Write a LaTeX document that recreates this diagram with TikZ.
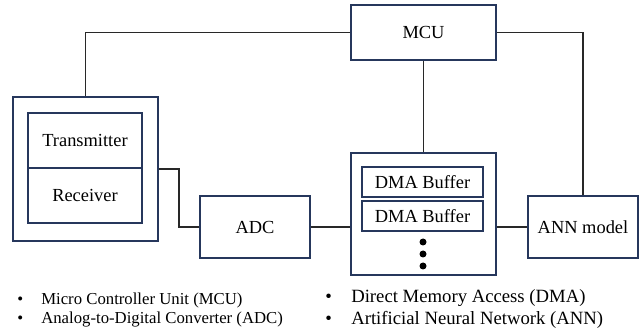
\documentclass[tikz,border=0pt]{standalone}
\usepackage{fontspec}
\setmainfont{Liberation Serif}
\usetikzlibrary{calc}
\definecolor{boxblue}{RGB}{38,55,92}
\definecolor{wiregray}{RGB}{40,40,40}
\def\unit{0.025cm}
\tikzset{
    blk/.style={draw=boxblue, line width=1.4pt, inner sep=0pt, align=center,
        font=\fontsize{13.1}{15}\selectfont},
    wire/.style={draw=wiregray, line width=1pt},
    legend/.style={anchor=west, inner sep=0pt},
}
% name, x, y, width, height, text (pixel units)
\newcommand{\blk}[6]{
    \node[blk, minimum width=#4*\unit, minimum height=#5*\unit] (#1) at (#2,#3) {#6};
}
\newcommand{\litem}[2]{\makebox[#1][l]{\textbullet}#2}

\begin{document}
\begin{tikzpicture}[x=\unit, y=-\unit]
    \useasboundingbox (0,0) rectangle (643,333);
    \blk{mcu}{423.5}{32.5}{145}{55}{MCU}
    \blk{trx}{85.5}{169}{145}{144}{}
    \blk{tx}{85}{140.5}{114}{55}{Transmitter}
    \blk{rx}{85}{195.5}{114}{55}{Receiver}
    \blk{adc}{255}{227}{110}{62}{ADC}
    \blk{dma}{423.5}{214}{145}{122}{}
    \blk{buf1}{422.5}{182}{121}{30}{DMA Buffer}
    \blk{buf2}{422.5}{216}{121}{30}{DMA Buffer}
    \blk{ann}{583}{227}{110}{62}{ANN model}
    \foreach \i/\y in {1/242,2/254,3/266}
        \node[circle, fill=black, inner sep=0pt, minimum size=7*\unit] (dot\i) at (423,\y) {};
    % connectors
    \draw[wire] (trx.north) |- (mcu.west);
    \draw[wire] (mcu.east) -| (ann.north);
    \draw[wire] (mcu.south) -- (dma.north);
    \coordinate (bend) at ($(trx.east)!0.5!(adc.west)$);
    \draw[wire] (trx.east) -| (bend) |- (adc.west);
    \draw[wire] (adc.east) -- (adc.east -| dma.west);
    \draw[wire] (dma.east |- ann.west) -- (ann.west);
    % legend
    \begin{scope}[font=\fontsize{11.9}{14}\selectfont]
        \node[legend] (lg1) at (17,300) {\litem{0.6cm}{Micro Controller Unit (MCU)}};
        \node[legend] (lg2) at (17,320) {\litem{0.6cm}{Analog-to-Digital Converter (ADC)}};
    \end{scope}
    \begin{scope}[font=\fontsize{13.3}{16}\selectfont]
        \node[legend] (lg3) at (325,298) {\litem{0.65cm}{Direct Memory Access (DMA)}};
        \node[legend] (lg4) at (325,320) {\litem{0.65cm}{Artificial Neural Network (ANN)}};
    \end{scope}
\end{tikzpicture}
\end{document}
